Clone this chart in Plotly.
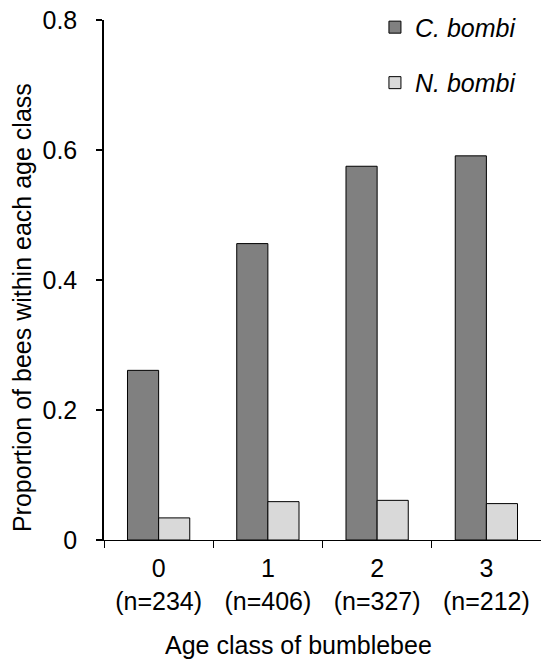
import plotly.graph_objects as go

age_classes = ["0", "1", "2", "3"]
sample_sizes = [234, 406, 327, 212]
c_bombi = [0.261, 0.456, 0.575, 0.591]
n_bombi = [0.034, 0.059, 0.061, 0.056]
y_ticks = [0, 0.2, 0.4, 0.6, 0.8]
y_tick_text = ["0", "0.2", "0.4", "0.6", "0.8"]

x_labels = [f"{a}<br>(n={n})" for a, n in zip(age_classes, sample_sizes)]
FONT = "Liberation Sans, Arial, sans-serif"

fig = go.Figure()
fig.add_trace(go.Bar(x=x_labels, y=c_bombi, name="<i>C. bombi</i>", legendgroup="c",
                     marker=dict(color="#808080", line=dict(color="black", width=1))))
fig.add_trace(go.Bar(x=x_labels, y=n_bombi, name="<i>N. bombi</i>", legendgroup="n",
                     marker=dict(color="#d9d9d9", line=dict(color="black", width=1))))

fig.update_layout(
    width=541, height=666,
    margin=dict(l=104, r=0, t=20, b=126, autoexpand=False),
    paper_bgcolor="white", plot_bgcolor="white",
    font=dict(family=FONT, size=25, color="black"),
    barmode="group", bargap=0.43, bargroupgap=0,
    showlegend=True,
    hovermode=False,
    legend=dict(x=0.62, xanchor="left", y=1.03, yanchor="top", bgcolor="rgba(0,0,0,0)",
                font=dict(size=25), tracegroupgap=20, itemwidth=30),
    xaxis=dict(showline=True, linecolor="black", linewidth=1, ticks="outside",
               tickson="boundaries", ticklen=7, tickcolor="black", tickwidth=1,
               showgrid=False, tickfont=dict(size=25), automargin=False,
               ticklabelstandoff=6),
    yaxis=dict(range=[0, 0.8], tickvals=y_ticks, ticktext=y_tick_text,
               showline=True, linecolor="black", linewidth=1.5, ticks="outside",
               ticklen=6, tickcolor="black", tickwidth=1.5, showgrid=False, zeroline=False,
               tickfont=dict(size=25), automargin=False, ticklabelstandoff=14),
    annotations=[
        dict(text="Proportion of bees within each age class", textangle=-90,
             xref="paper", yref="paper", x=0, y=0.446, xanchor="center", yanchor="middle",
             xshift=-82, showarrow=False, font=dict(size=25)),
        dict(text="Age class of bumblebee",
             xref="paper", yref="paper", x=0.444, y=0, xanchor="center", yanchor="middle",
             yshift=-105, showarrow=False, font=dict(size=25)),
    ],
)

fig.write_html("out.html", config={"displayModeBar": False},
               post_script="document.body.style.margin='0px';document.body.style.overflow='hidden';")
